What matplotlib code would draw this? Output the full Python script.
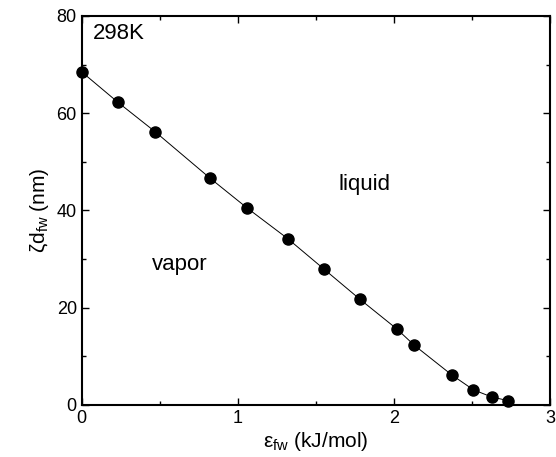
import matplotlib
matplotlib.use("Agg")
import matplotlib.pyplot as plt
from matplotlib.ticker import MultipleLocator

eps_fw = [0.0, 0.23, 0.47, 0.82, 1.06, 1.32, 1.55, 1.78, 2.02, 2.13, 2.37, 2.51, 2.63, 2.73]
zeta_d = [68.5, 62.3, 56.2, 46.7, 40.5, 34.2, 28.0, 21.8, 15.6, 12.3, 6.2, 3.1, 1.6, 0.9]

plt.rcParams['font.family'] = ['Liberation Sans', 'DejaVu Sans']
plt.rcParams['mathtext.default'] = 'regular'
fig = plt.figure(figsize=(5.56, 4.57), dpi=100)
ax = fig.add_axes([0.147, 0.114, 0.842, 0.851])
ax.plot(eps_fw, zeta_d, color='black', lw=0.7, marker='o', ms=8, mfc='black', mec='black', clip_on=False, zorder=3)
ax.set_xlim(0, 3)
ax.set_ylim(0, 80)
ax.xaxis.set_major_locator(MultipleLocator(1))
ax.xaxis.set_minor_locator(MultipleLocator(0.5))
ax.yaxis.set_major_locator(MultipleLocator(20))
ax.yaxis.set_minor_locator(MultipleLocator(10))
ax.tick_params(which='both', direction='in', top=True, right=True, labelsize=13, width=1.0)
ax.tick_params(which='major', length=5)
ax.tick_params(which='minor', length=3)
for s in ax.spines.values():
    s.set_linewidth(1.5)
ax.set_xlabel('ε$_{fw}$ (kJ/mol)', fontsize=15, labelpad=2)
ax.set_ylabel('ζd$_{fw}$ (nm)', fontsize=15, labelpad=4)
ax.text(0.07, 76.5, '298K', fontsize=16, va='center', ha='left')
ax.text(1.81, 45.3, 'liquid', fontsize=16, va='center', ha='center')
ax.text(0.63, 28.8, 'vapor', fontsize=16, va='center', ha='center')
fig.savefig('out.png', dpi=100)
